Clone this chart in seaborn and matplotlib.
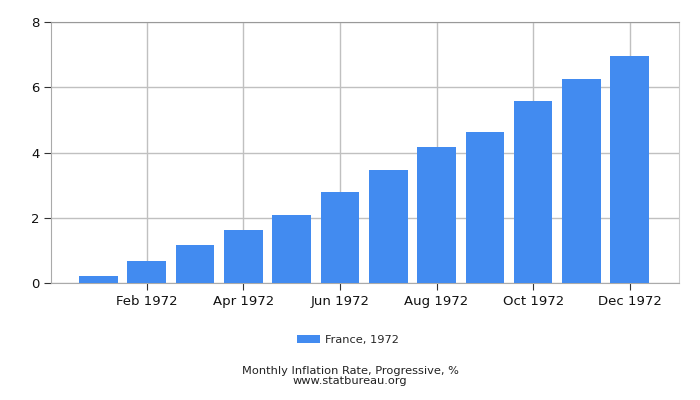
import pandas as pd
import seaborn as sns
import matplotlib
matplotlib.use('Agg')
import matplotlib.pyplot as plt

months = ['Jan 1972', 'Feb 1972', 'Mar 1972', 'Apr 1972', 'May 1972', 'Jun 1972',
          'Jul 1972', 'Aug 1972', 'Sep 1972', 'Oct 1972', 'Nov 1972', 'Dec 1972']
rates = [0.22, 0.68, 1.17, 1.63, 2.09, 2.80, 3.47, 4.18, 4.64, 5.59, 6.26, 6.97]
series_name = 'France, 1972'
yticks = [0, 2, 4, 6, 8]

sns.set_style('white')
plt.rcParams['font.family'] = ['DejaVu Sans']

df = pd.DataFrame({'month': months, 'rate': rates, 'series': series_name})

fig = plt.figure(figsize=(7, 4), dpi=100)
ax = fig.add_axes([0.073, 0.2925, 0.897, 0.6525])

sns.barplot(data=df, x='month', y='rate', hue='series', palette=['#428bf0'],
            width=0.8, saturation=1, linewidth=0, ax=ax, zorder=3, legend=True)

ax.set_xlim(-0.98, 12.02)
ax.set_ylim(0, 8)
ax.set_yticks(yticks)
ax.set_xticks(range(1, 12, 2))
ax.set_xticklabels([months[i] for i in range(1, 12, 2)])
ax.set_xlabel('')
ax.set_ylabel('')
ax.grid(True, color='#c0c0c0', linewidth=1, zorder=0)
ax.set_axisbelow(True)
ax.tick_params(axis='both', length=5, color='#333333', labelsize=9.5, labelcolor='#111111',
               direction='out', bottom=True, left=True)

for side in ['left', 'bottom']:
    ax.spines[side].set_color('#aaaaaa')
ax.spines['top'].set_color('#999999')
ax.spines['right'].set_color('#cccccc')

ax.legend(loc='center', bbox_to_anchor=(0.473, -0.218), frameon=False,
          fontsize=8.2, handlelength=2.0, handleheight=0.7, handletextpad=0.4)

fig.text(0.5, 0.0725, 'Monthly Inflation Rate, Progressive, %', ha='center', va='center',
         fontsize=8.2, color='#222222')
fig.text(0.5, 0.0475, 'www.statbureau.org', ha='center', va='center', fontsize=8.2, color='#222222')

fig.savefig('out.png', dpi=100)
